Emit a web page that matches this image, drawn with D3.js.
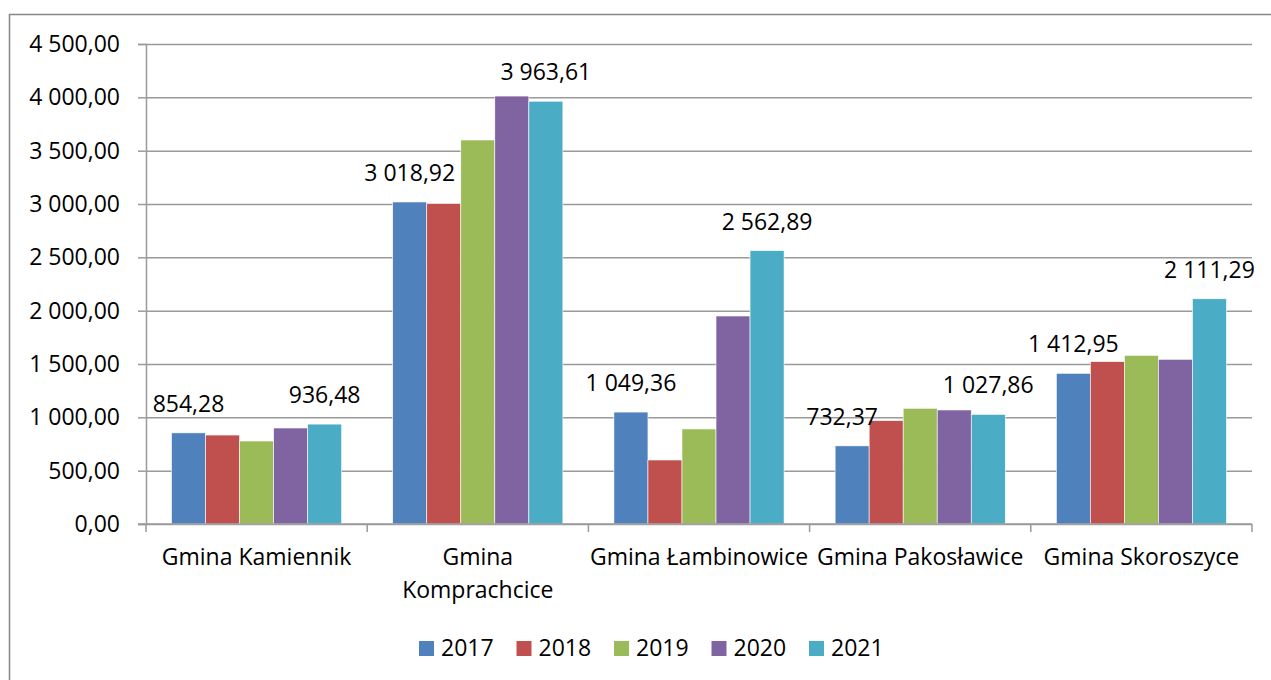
<!DOCTYPE html>
<html>
<head>
<meta charset="utf-8">
<script src="https://cdn.jsdelivr.net/npm/d3@7"></script>
<style>
  body { margin: 0; background: #fff; }
  text { font-family: "Open Sans", sans-serif; fill: #000; }
</style>
</head>
<body>
<svg id="chart"></svg>
<script>
// data
var categories = ["Gmina Kamiennik", "Gmina Komprachcice", "Gmina Łambinowice", "Gmina Pakosławice", "Gmina Skoroszyce"];
var years = ["2017", "2018", "2019", "2020", "2021"];
var values2017 = [854.28, 3018.92, 1049.36, 732.37, 1412.95];
var values2018 = [834, 3005, 600, 970, 1522];
var values2019 = [778, 3600, 891, 1085, 1581];
var values2020 = [900, 4012, 1950, 1069, 1544];
var values2021 = [936.48, 3963.61, 2562.89, 1027.86, 2111.29];
var yTicks = [0, 500, 1000, 1500, 2000, 2500, 3000, 3500, 4000, 4500];
var colors = ["#4F81BD", "#C0504D", "#9BBB59", "#8064A2", "#4BACC6"];

var series = [values2017, values2018, values2019, values2020, values2021];

var width = 1271;
var height = 680;
var margin = {top: 44, right: 19, bottom: 156, left: 146};

var pl = d3.formatLocale({decimal: ",", thousands: " ", grouping: [3], currency: ["", ""]});
var fmt = pl.format(",.2f");

var svg = d3.select("#chart")
    .attr("width", width)
    .attr("height", height);

// outer border
svg.append("rect")
    .attr("x", 9.5)
    .attr("y", 14.5)
    .attr("width", 1300)
    .attr("height", 700)
    .attr("fill", "none")
    .attr("stroke", "#878787")
    .attr("stroke-width", 1.5);

var x0 = d3.scaleBand()
    .domain(categories)
    .range([margin.left, width - margin.right])
    .padding(0);

var x1 = d3.scaleBand()
    .domain(years)
    .range([0, x0.bandwidth()])
    .paddingInner(0)
    .paddingOuter(0.75);

var y = d3.scaleLinear()
    .domain([0, 4500])
    .range([height - margin.bottom, margin.top]);

// gridlines
svg.append("g")
    .attr("class", "grid")
    .attr("transform", "translate(" + margin.left + ",0)")
    .call(d3.axisLeft(y).tickValues(yTicks).tickSize(-(width - margin.left - margin.right)).tickFormat(""))
    .call(g => g.select(".domain").remove())
    .call(g => g.selectAll("line").attr("stroke", "#9a9a9a").attr("stroke-width", 1.5));

// y axis
svg.append("g")
    .attr("transform", "translate(" + margin.left + ",0)")
    .call(d3.axisLeft(y).tickValues(yTicks).tickSize(8).tickPadding(18).tickFormat(fmt))
    .call(g => g.select(".domain").attr("stroke", "#9a9a9a").attr("stroke-width", 1.5))
    .call(g => g.selectAll("line").attr("stroke", "#9a9a9a").attr("stroke-width", 1.5))
    .call(g => g.selectAll("text").style("font-size", "23px").attr("fill", "#000"));

// bars
var groups = svg.append("g").selectAll("g")
    .data(categories)
    .enter().append("g")
    .attr("transform", d => "translate(" + x0(d) + ",0)");

groups.selectAll("rect")
    .data((d, i) => years.map((yr, j) => ({year: yr, value: series[j][i], j: j})))
    .enter().append("rect")
    .attr("x", d => x1(d.year))
    .attr("y", d => y(d.value))
    .attr("width", x1.bandwidth())
    .attr("height", d => y(0) - y(d.value))
    .attr("fill", d => colors[d.j])
    .attr("stroke", "#fff")
    .attr("stroke-width", 0.6);

// value labels for 2017 and 2021 only
var nudge = {"732.37": -10};
groups.selectAll(".lbl")
    .data((d, i) => [{year: "2017", value: values2017[i]}, {year: "2021", value: values2021[i]}])
    .enter().append("text")
    .attr("class", "lbl")
    .attr("x", d => x1(d.year) + x1.bandwidth() / 2 + (nudge[d.value] || 0))
    .attr("y", d => y(d.value) - 21)
    .attr("text-anchor", "middle")
    .style("font-size", "23px")
    .text(d => fmt(d.value));

// x axis line and boundary ticks
var xAxis = svg.append("g");
xAxis.append("line")
    .attr("x1", margin.left - 8)
    .attr("x2", width - margin.right)
    .attr("y1", y(0))
    .attr("y2", y(0))
    .attr("stroke", "#9a9a9a")
    .attr("stroke-width", 1.5);

var bounds = categories.map(c => x0(c)).concat([x0.range()[1]]);
xAxis.selectAll(".tk")
    .data(bounds)
    .enter().append("line")
    .attr("x1", d => d)
    .attr("x2", d => d)
    .attr("y1", y(0))
    .attr("y2", y(0) + 8)
    .attr("stroke", "#9a9a9a")
    .attr("stroke-width", 1.5);

// category labels, wrapped when too wide
xAxis.selectAll(".cat")
    .data(categories)
    .enter().append("text")
    .attr("class", "cat")
    .attr("text-anchor", "middle")
    .attr("x", d => x0(d) + x0.bandwidth() / 2)
    .attr("y", 565)
    .style("font-size", "23px")
    .each(function(d) {
      var t = d3.select(this);
      t.text(d);
      if (this.getComputedTextLength() > x0.bandwidth()) {
        var words = d.split(" ");
        t.text(null);
        words.forEach((w, k) => {
          t.append("tspan")
            .attr("x", x0(d) + x0.bandwidth() / 2)
            .attr("dy", k === 0 ? 0 : 33)
            .text(w);
        });
      }
    });

// legend
var legend = svg.append("g")
    .attr("transform", "translate(419,641)");

var item = legend.selectAll("g")
    .data(years)
    .enter().append("g")
    .attr("transform", (d, i) => "translate(" + (i * 97.5) + ",0)");

item.append("rect")
    .attr("width", 15)
    .attr("height", 15)
    .attr("fill", (d, i) => colors[i]);

item.append("text")
    .attr("x", 22)
    .attr("y", 15)
    .style("font-size", "23px")
    .text(d => d);
</script>
</body>
</html>
